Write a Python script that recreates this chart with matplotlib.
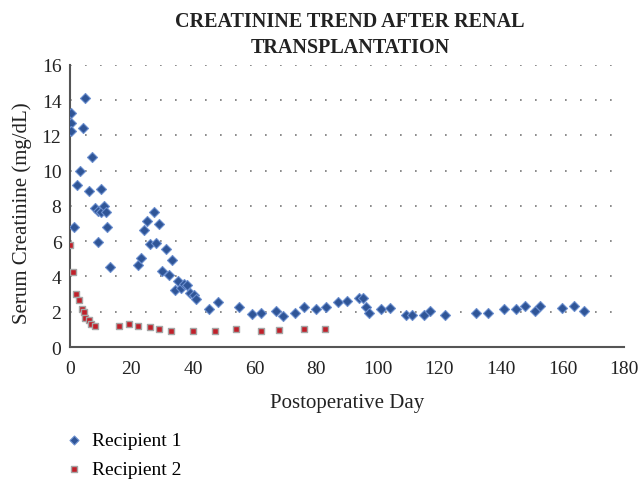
import matplotlib
matplotlib.use("Agg")
import matplotlib.pyplot as plt

title = "CREATININE TREND AFTER RENAL\nTRANSPLANTATION"
xlabel = "Postoperative Day"
ylabel = "Serum Creatinine (mg/dL)"

r1_day = [0.5, 0.3, 0.3, 1.3, 2.2, 3.25, 4.2, 5.1, 6.3, 7.2, 8.1, 9.2, 9.2, 10.2, 10.3,
          11.1, 11.8, 12.2, 13.2, 22.1, 23.1, 24.1, 25.2, 26.1, 27.3, 28.1, 29.1, 30.1,
          31.2, 32.2, 33.1, 34.1, 35.0, 36.1, 37.0, 38.1, 39.1, 40.2, 41.1, 45.2, 48.1,
          55.1, 59.1, 62.1, 67.0, 69.1, 73.0, 76.0, 80.0, 83.1, 87.1, 90.1, 94.0, 95.1,
          96.1, 97.1, 101.0, 104.1, 109.1, 111.0, 115.0, 117.0, 121.9, 131.9, 135.9,
          140.9, 144.9, 147.9, 151.0, 152.8, 159.8, 163.8, 166.9]
r1_val = [13.3, 12.7, 12.25, 6.8, 9.2, 10.0, 12.4, 14.13, 8.85, 10.8, 7.9, 7.7, 5.94, 8.95, 7.67,
          8.0, 7.67, 6.83, 4.55, 4.65, 5.05, 6.66, 7.14, 5.85, 7.67, 5.92, 6.99, 4.3,
          5.58, 4.08, 4.91, 3.25, 3.77, 3.33, 3.6, 3.5, 3.06, 2.97, 2.72, 2.15, 2.55,
          2.25, 1.85, 1.92, 2.02, 1.75, 1.92, 2.25, 2.15, 2.25, 2.55, 2.63, 2.76, 2.76,
          2.26, 1.92, 2.15, 2.23, 1.83, 1.83, 1.83, 2.06, 1.83, 1.92, 1.92,
          2.15, 2.15, 2.32, 2.06, 2.32, 2.23, 2.32, 2.06]

r2_day = [0.0, 0.9, 2.0, 3.1, 4.1, 4.5, 5.1, 6.2, 7.0, 8.1, 16.1, 19.1, 22.1, 26.0,
          29.0, 33.0, 40.0, 47.1, 54.0, 62.0, 68.0, 76.0, 82.9]
r2_val = [5.77, 4.28, 3.0, 2.66, 2.15, 1.96, 1.66, 1.52, 1.29, 1.18, 1.18, 1.29, 1.2, 1.12,
          1.03, 0.89, 0.89, 0.93, 1.03, 0.89, 0.97, 1.03, 1.03]

x_ticks = list(range(0, 181, 20))
y_ticks = list(range(0, 17, 2))

plt.rcParams['font.family'] = ['Liberation Serif', 'DejaVu Serif']

fig = plt.figure(figsize=(6.4, 4.81), dpi=100)
ax = fig.add_axes([0.109, 0.2765, 0.866, 0.5865])

ax.scatter(r1_day, r1_val, marker='D', s=26, color='#2F5597', edgecolors='#6C8FCF',
           linewidths=0.8, label='Recipient 1', zorder=3)
ax.scatter(r2_day, r2_val, marker='s', s=22, color='#C0202A', edgecolors='#A6A6A6',
           linewidths=1.0, label='Recipient 2', zorder=3)

ax.set_xlim(0, 180)
ax.set_ylim(0, 16)
ax.set_xticks(x_ticks)
ax.set_yticks(y_ticks)
ax.tick_params(axis='both', length=0, labelsize=14, colors='#222222')
ax.tick_params(axis='x', pad=9)
ax.tick_params(axis='y', pad=6)
ax.yaxis.grid(True, linestyle=(0, (1, 8)), color='#777777', linewidth=1.2)
ax.set_axisbelow(True)
for s in ['top', 'right']:
    ax.spines[s].set_visible(False)
for s in ['left', 'bottom']:
    ax.spines[s].set_color('#555555')
    ax.spines[s].set_linewidth(1.5)

ax.set_xlabel(xlabel, fontsize=15, color='#222222', labelpad=12)
ax.set_ylabel(ylabel, fontsize=15, color='#222222', labelpad=6)
ax.yaxis.set_label_coords(-0.068, 0.477)
fig.text(0.547, 0.975, title, ha='center', va='top', fontsize=14.5, fontweight='bold',
         color='#222222', linespacing=1.4)

fig.legend(loc='upper left', bbox_to_anchor=(0.091, 0.117), frameon=False,
           fontsize=14, handlelength=0.8, handletextpad=0.53, labelspacing=0.6,
           markerscale=0.9, borderaxespad=0)

fig.savefig('out.png', dpi=100)
